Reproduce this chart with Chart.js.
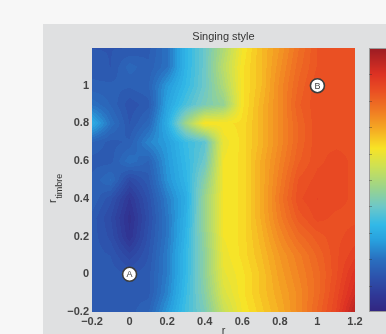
<!DOCTYPE html>
<html>
<head>
<meta charset="utf-8">
<script src="https://cdn.jsdelivr.net/npm/chart.js@4.4.1/dist/chart.umd.min.js"></script>
<style>
  html, body { margin: 0; padding: 0; background: #f7f7f7; }
  canvas { display: block; }
</style>
</head>
<body>
<canvas id="chart" width="386" height="334"></canvas>
<script>
// grid positions (r along x, r_timbre along y, rows listed top to bottom)
const xValues = [-0.2, -0.1, 0, 0.1, 0.2, 0.3, 0.4, 0.5, 0.6, 0.7, 0.8, 0.9, 1.0, 1.1, 1.2];
const yValues = [1.2, 1.1, 1.0, 0.9, 0.8, 0.7, 0.6, 0.5, 0.4, 0.3, 0.2, 0.1, 0, -0.1, -0.2];

// colour level (0 = bottom of colour bar, 1 = top)
const levels = [
  [0.14, 0.14, 0.14, 0.15, 0.20, 0.32, 0.40, 0.50, 0.61, 0.67, 0.72, 0.78, 0.83, 0.84, 0.84],
  [0.15, 0.14, 0.18, 0.16, 0.20, 0.32, 0.40, 0.52, 0.62, 0.67, 0.73, 0.79, 0.83, 0.84, 0.84],
  [0.16, 0.16, 0.16, 0.17, 0.26, 0.33, 0.40, 0.50, 0.62, 0.67, 0.74, 0.80, 0.84, 0.84, 0.84],
  [0.20, 0.17, 0.13, 0.15, 0.28, 0.36, 0.42, 0.46, 0.62, 0.68, 0.74, 0.81, 0.84, 0.84, 0.84],
  [0.30, 0.20, 0.14, 0.18, 0.30, 0.48, 0.62, 0.62, 0.63, 0.68, 0.74, 0.80, 0.84, 0.84, 0.84],
  [0.17, 0.15, 0.16, 0.23, 0.27, 0.34, 0.38, 0.60, 0.63, 0.68, 0.74, 0.80, 0.84, 0.84, 0.84],
  [0.15, 0.15, 0.20, 0.17, 0.26, 0.33, 0.40, 0.61, 0.63, 0.69, 0.75, 0.81, 0.84, 0.85, 0.84],
  [0.16, 0.19, 0.11, 0.15, 0.25, 0.32, 0.44, 0.61, 0.63, 0.69, 0.76, 0.83, 0.85, 0.85, 0.84],
  [0.17, 0.13, 0.06, 0.13, 0.22, 0.30, 0.47, 0.61, 0.63, 0.69, 0.77, 0.84, 0.86, 0.85, 0.84],
  [0.15, 0.11, 0.04, 0.12, 0.21, 0.31, 0.47, 0.61, 0.63, 0.69, 0.76, 0.82, 0.85, 0.84, 0.84],
  [0.15, 0.12, 0.05, 0.13, 0.21, 0.32, 0.46, 0.61, 0.63, 0.68, 0.74, 0.79, 0.82, 0.84, 0.85],
  [0.15, 0.14, 0.10, 0.14, 0.22, 0.33, 0.45, 0.60, 0.63, 0.67, 0.72, 0.76, 0.80, 0.84, 0.87],
  [0.15, 0.15, 0.14, 0.15, 0.22, 0.33, 0.45, 0.59, 0.62, 0.66, 0.71, 0.75, 0.79, 0.84, 0.90],
  [0.15, 0.15, 0.15, 0.15, 0.23, 0.34, 0.44, 0.57, 0.62, 0.66, 0.70, 0.74, 0.79, 0.85, 0.92],
  [0.15, 0.15, 0.15, 0.17, 0.26, 0.35, 0.42, 0.54, 0.61, 0.65, 0.69, 0.74, 0.80, 0.86, 0.96]
];

const xTicks = [-0.2, 0, 0.2, 0.4, 0.6, 0.8, 1, 1.2];
const yTicks = [-0.2, 0, 0.2, 0.4, 0.6, 0.8, 1];

const markerLabels = ['A', 'B'];
const markerX = [0, 1];
const markerY = [0, 1];

// jet-like colour map, faded like the printed figure
const colorStops = [
  [0.00, 50, 38, 128], [0.06, 48, 55, 150], [0.13, 45, 82, 172], [0.20, 42, 112, 192],
  [0.27, 40, 160, 222], [0.33, 50, 185, 232], [0.40, 110, 200, 200], [0.47, 155, 212, 140],
  [0.55, 205, 225, 85], [0.62, 248, 228, 38], [0.70, 245, 165, 35], [0.77, 240, 118, 35],
  [0.84, 234, 78, 35], [0.90, 222, 50, 35], [1.00, 155, 28, 35]
];

function colorFor(v) {
  v = Math.max(0, Math.min(1, v));
  for (let i = 1; i < colorStops.length; i++) {
    const b = colorStops[i];
    if (v <= b[0]) {
      const a = colorStops[i - 1];
      const t = (v - a[0]) / (b[0] - a[0]);
      return [a[1] + (b[1] - a[1]) * t, a[2] + (b[2] - a[2]) * t, a[3] + (b[3] - a[3]) * t];
    }
  }
  const last = colorStops[colorStops.length - 1];
  return [last[1], last[2], last[3]];
}

function sampleLevel(x, y) {
  let fx = (x - xValues[0]) / (xValues[1] - xValues[0]);
  let fy = (y - yValues[0]) / (yValues[1] - yValues[0]);
  fx = Math.max(0, Math.min(xValues.length - 1.0001, fx));
  fy = Math.max(0, Math.min(yValues.length - 1.0001, fy));
  const i = Math.floor(fx), j = Math.floor(fy);
  const tx = fx - i, ty = fy - j;
  const top = levels[j][i] * (1 - tx) + levels[j][i + 1] * tx;
  const bot = levels[j + 1][i] * (1 - tx) + levels[j + 1][i + 1] * tx;
  return top * (1 - ty) + bot * ty;
}

const fontFamily = '"Liberation Sans", Arial, Helvetica, sans-serif';

// gray figure panel
const panelPlugin = {
  id: 'panel',
  beforeDraw(chart) {
    const ctx = chart.ctx;
    ctx.save();
    ctx.fillStyle = '#f7f7f7';
    ctx.fillRect(0, 0, chart.width, chart.height);
    ctx.fillStyle = '#dfe0e1';
    ctx.fillRect(43, 24, chart.width - 43, chart.height - 24);
    ctx.restore();
  }
};

// filled colour surface drawn through the scales
const surfacePlugin = {
  id: 'surface',
  beforeDatasetsDraw(chart) {
    const area = chart.chartArea;
    const xs = chart.scales.x, ys = chart.scales.y;
    const w = Math.round(area.right - area.left);
    const h = Math.round(area.bottom - area.top);
    const off = document.createElement('canvas');
    off.width = w; off.height = h;
    const octx = off.getContext('2d');
    const img = octx.createImageData(w, h);
    const steps = 64;
    for (let py = 0; py < h; py++) {
      const y = ys.getValueForPixel(area.top + py + 0.5);
      for (let px = 0; px < w; px++) {
        const x = xs.getValueForPixel(area.left + px + 0.5);
        let v = sampleLevel(x, y);
        v = (Math.floor(v * steps) + 0.5) / steps;
        const c = colorFor(v);
        const k = (py * w + px) * 4;
        img.data[k] = c[0];
        img.data[k + 1] = c[1];
        img.data[k + 2] = c[2];
        img.data[k + 3] = 255;
      }
    }
    octx.putImageData(img, 0, 0);
    chart.ctx.drawImage(off, area.left, area.top);
  }
};

// letters inside the marker circles
const markerTextPlugin = {
  id: 'markerText',
  afterDatasetsDraw(chart) {
    const ctx = chart.ctx;
    const meta = chart.getDatasetMeta(0);
    ctx.save();
    ctx.font = '9px ' + fontFamily;
    ctx.fillStyle = '#444';
    ctx.textAlign = 'center';
    ctx.textBaseline = 'middle';
    meta.data.forEach((pt, i) => {
      ctx.fillText(markerLabels[i], pt.x, pt.y + 0.5);
    });
    ctx.restore();
  }
};

// colour bar + rotated y title with subscript
const extrasPlugin = {
  id: 'extras',
  afterDraw(chart) {
    const ctx = chart.ctx;
    const area = chart.chartArea;
    const x0 = area.right + 14;
    const top = area.top, bottom = area.bottom;
    ctx.save();
    for (let py = Math.round(top); py < Math.round(bottom); py++) {
      const c = colorFor((bottom - py - 0.5) / (bottom - top));
      ctx.fillStyle = `rgb(${c[0] | 0},${c[1] | 0},${c[2] | 0})`;
      ctx.fillRect(x0, py, chart.width - x0, 1);
    }
    ctx.strokeStyle = '#9a9a9a';
    ctx.lineWidth = 1;
    ctx.strokeRect(x0 + 0.5, top + 0.5, chart.width, bottom - top - 1);
    for (let k = 1; k < 10; k++) {
      const ty = Math.round(bottom - (bottom - top) * k / 10) + 0.5;
      ctx.beginPath();
      ctx.moveTo(x0, ty);
      ctx.lineTo(x0 + 3, ty);
      ctx.strokeStyle = 'rgba(40,40,40,0.35)';
      ctx.stroke();
    }

    ctx.translate(55.5, 203);
    ctx.rotate(-Math.PI / 2);
    ctx.fillStyle = '#333';
    ctx.textBaseline = 'alphabetic';
    ctx.font = '11px ' + fontFamily;
    ctx.fillText('r', 0, 0);
    const rw = ctx.measureText('r').width;
    ctx.font = '9px ' + fontFamily;
    ctx.fillText('timbre', rw + 0.5, 6);
    ctx.restore();
  }
};

function fmt(v) {
  const r = Math.round(v * 10) / 10;
  if (r === 0) return '0';
  return (r < 0 ? '\u2212' : '') + String(Math.abs(r));
}

const tickFont = { size: 11, family: fontFamily, weight: 'bold' };

new Chart(document.getElementById('chart'), {
  type: 'scatter',
  data: {
    datasets: [{
      data: markerX.map((x, i) => ({ x, y: markerY[i] })),
      pointRadius: 7,
      pointBackgroundColor: '#ffffff',
      pointBorderColor: '#3c3c3c',
      pointBorderWidth: 1.6,
      pointHoverRadius: 7
    }]
  },
  options: {
    responsive: false,
    devicePixelRatio: 1,
    animation: false,
    layout: { padding: { left: 43, top: 24, right: 31, bottom: 0 } },
    plugins: {
      legend: { display: false },
      tooltip: { enabled: false },
      title: {
        display: true,
        fullSize: false,
        text: 'Singing style',
        color: '#333',
        font: { size: 11, family: fontFamily, weight: 'normal', lineHeight: 1 },
        padding: { top: 7, bottom: 6 }
      }
    },
    scales: {
      x: {
        type: 'linear',
        min: -0.2,
        max: 1.2,
        afterBuildTicks: s => { s.ticks = xTicks.map(v => ({ value: v })); },
        afterFit: s => { s.height = 22; },
        grid: { display: false, drawTicks: false },
        border: { display: false },
        ticks: {
          padding: 3,
          color: '#444',
          font: tickFont,
          maxRotation: 0,
          autoSkip: false,
          callback: v => fmt(v)
        },
        title: {
          display: true,
          text: 'r',
          color: '#333',
          font: { size: 11, family: fontFamily },
          padding: { top: 0, bottom: -4 }
        }
      },
      y: {
        type: 'linear',
        min: -0.2,
        max: 1.2,
        afterBuildTicks: s => { s.ticks = yTicks.map(v => ({ value: v })); },
        afterFit: s => { s.width = 49; },
        grid: { display: false, drawTicks: false },
        border: { display: false },
        ticks: {
          padding: 3,
          color: '#444',
          font: tickFont,
          autoSkip: false,
          callback: v => fmt(v)
        }
      }
    }
  },
  plugins: [panelPlugin, surfacePlugin, markerTextPlugin, extrasPlugin]
});
</script>
</body>
</html>
